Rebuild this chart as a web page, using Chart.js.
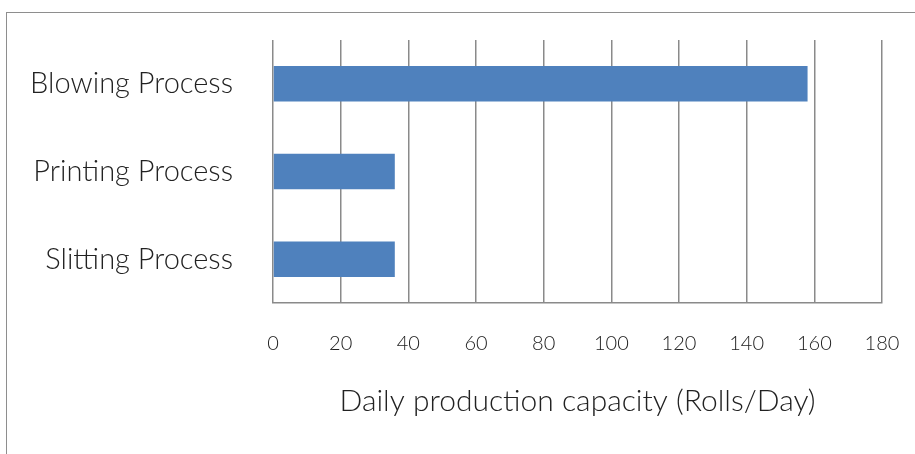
<!DOCTYPE html>
<html>
<head>
<meta charset="utf-8">
<script src="https://cdn.jsdelivr.net/npm/chart.js@4"></script>
<style>
  html, body { margin: 0; padding: 0; background: #fff; }
  #wrap { position: relative; width: 915px; height: 454px; overflow: hidden; }
  #frame { position: absolute; left: 6px; top: 12px; width: 920px; height: 460px;
           border-left: 1.5px solid #8e8e8e; border-top: 1.5px solid #8e8e8e; box-sizing: border-box; }
  canvas { position: absolute; left: 0; top: 0; }
</style>
</head>
<body>
<div id="wrap">
  <div id="frame"></div>
  <canvas id="c" width="915" height="454"></canvas>
</div>
<script>
const categories = ["Blowing Process", "Printing Process", "Slitting Process"];
const capacity = [158, 36, 36];
const xTicks = [0, 20, 40, 60, 80, 100, 120, 140, 160, 180];
const xTitle = "Daily production capacity (Rolls/Day)";

const FONT = "Lato, 'Open Sans', sans-serif";

function zeroPad(s) { s.paddingTop = 0; s.paddingBottom = 0; s.paddingLeft = 0; s.paddingRight = 0; }

new Chart(document.getElementById("c"), {
  type: "bar",
  data: {
    labels: categories,
    datasets: [{
      data: capacity,
      backgroundColor: "#4F81BD",
      borderWidth: 0,
      barPercentage: 0.405,
      categoryPercentage: 1.0
    }]
  },
  options: {
    indexAxis: "y",
    responsive: false,
    animation: false,
    layout: { padding: { left: 0, top: 40, right: 33, bottom: 0 } },
    plugins: { legend: { display: false }, tooltip: { enabled: false } },
    scales: {
      x: {
        min: 0, max: 180,
        afterBuildTicks: (s) => { s.ticks = xTicks.map(v => ({ value: v })); },
        afterFit: (s) => { s.height = 151; zeroPad(s); },
        grid: { color: "#8a8a8a", lineWidth: 1.5, drawTicks: false },
        border: { color: "#8a8a8a", width: 1.5 },
        ticks: { color: "#222", font: { family: FONT, size: 20, weight: 300 }, padding: 29 },
        title: {
          display: true, text: xTitle, color: "#222",
          font: { family: FONT, size: 30, weight: 300 },
          padding: { top: 0, bottom: 35 }
        }
      },
      y: {
        afterFit: (s) => { s.width = 273; zeroPad(s); },
        grid: { display: false, drawTicks: false },
        border: { display: false },
        ticks: { color: "#222", font: { family: FONT, size: 29, weight: 300 }, padding: 40 }
      }
    }
  }
});
</script>
</body>
</html>
